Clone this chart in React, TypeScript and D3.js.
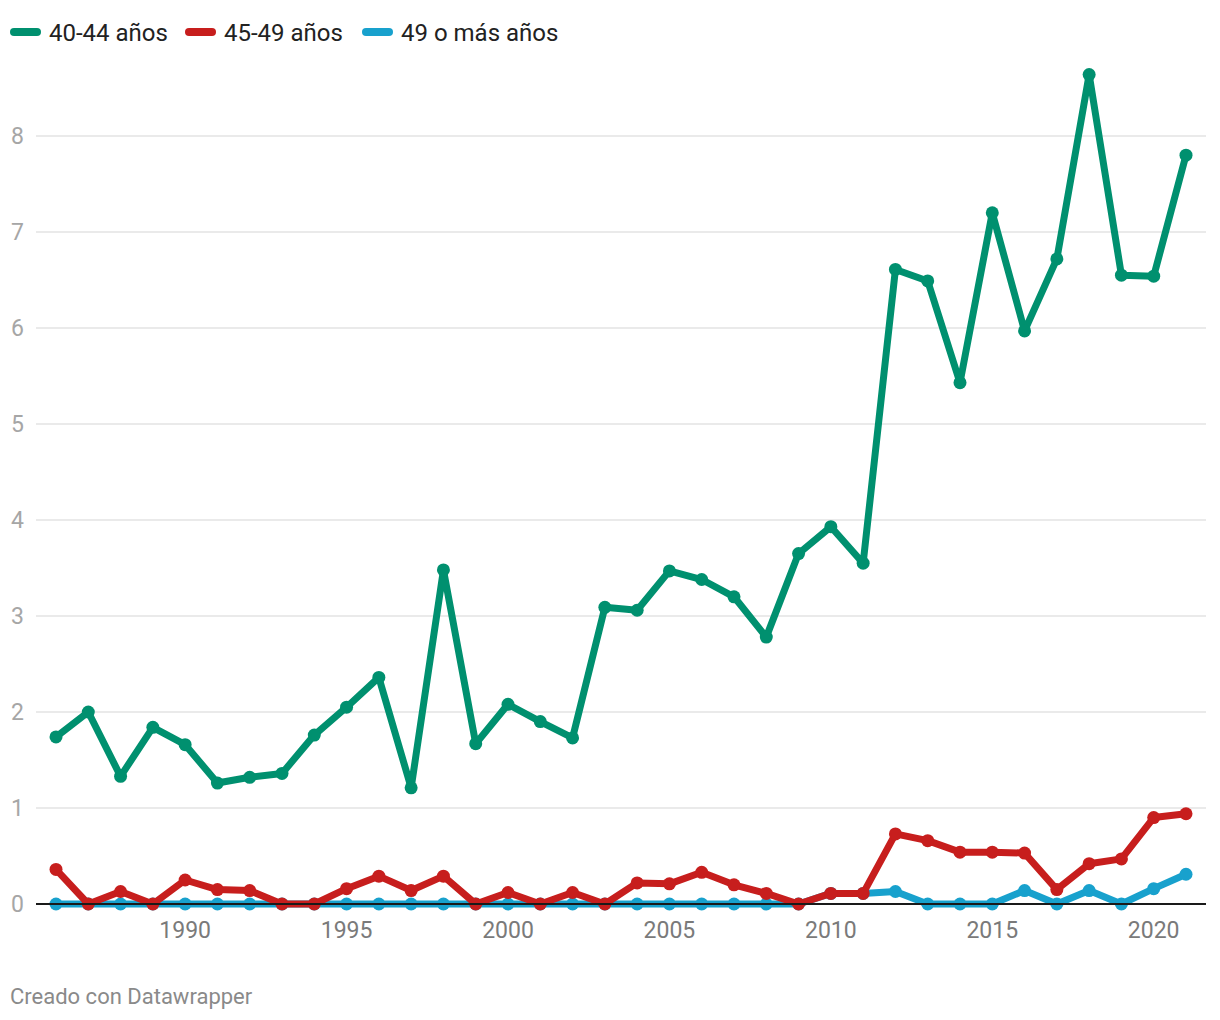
import React from "react";
import * as d3 from "d3";

const years: number[] = d3.range(1986, 2022);

const serie4044: number[] = [
  1.74, 2.0, 1.33, 1.84, 1.66, 1.26, 1.32, 1.36, 1.76, 2.05,
  2.36, 1.21, 3.48, 1.67, 2.08, 1.9, 1.73, 3.09, 3.06, 3.47,
  3.38, 3.2, 2.78, 3.65, 3.93, 3.55, 6.61, 6.49, 5.43, 7.2,
  5.97, 6.72, 8.64, 6.55, 6.54, 7.8,
];

const serie4549: number[] = [
  0.36, 0, 0.13, 0, 0.25, 0.15, 0.14, 0, 0, 0.16,
  0.29, 0.14, 0.29, 0, 0.12, 0, 0.12, 0, 0.22, 0.21,
  0.33, 0.2, 0.11, 0, 0.11, 0.11, 0.73, 0.66, 0.54, 0.54,
  0.53, 0.15, 0.42, 0.47, 0.9, 0.94,
];

const serie49mas: number[] = [
  0, 0, 0, 0, 0, 0, 0, 0, 0, 0,
  0, 0, 0, 0, 0, 0, 0, 0, 0, 0,
  0, 0, 0, 0, 0.11, 0.11, 0.13, 0, 0, 0,
  0.14, 0, 0.14, 0, 0.16, 0.31,
];

const seriesNames: string[] = ["40-44 años", "45-49 años", "49 o más años"];
const seriesColors: string[] = ["#00906f", "#c71e1d", "#18a1cd"];
const yTicks: number[] = [0, 1, 2, 3, 4, 5, 6, 7, 8];
const xTicks: number[] = [1990, 1995, 2000, 2005, 2010, 2015, 2020];

const W = 1220;
const H = 1020;
const FONT = "Roboto, 'Noto Sans', sans-serif";

export default function App() {
  const x = d3.scaleLinear().domain([1986, 2021]).range([56, 1186]);
  const y = d3.scaleLinear().domain([0, 8]).range([904, 136]);
  const line = d3
    .line<[number, number]>()
    .x((d) => x(d[0]))
    .y((d) => y(d[1]));

  const allSeries = [serie4044, serie4549, serie49mas];
  // draw order: blue bottom, red, green top
  const drawOrder = [2, 1, 0];

  const legendX = [10, 185, 362];

  return (
    <div style={{ position: "absolute", left: 0, top: 0 }}>
      <svg width={W} height={H} style={{ display: "block", background: "#fff" }}>
        {/* grid */}
        {yTicks
          .filter((t) => t !== 0)
          .map((t) => (
            <line
              key={"g" + t}
              x1={36}
              x2={1206}
              y1={y(t)}
              y2={y(t)}
              stroke="#e3e3e3"
              strokeWidth={1.5}
            />
          ))}
        {yTicks.map((t) => (
          <text
            key={"yt" + t}
            x={11}
            y={y(t) + 8}
            fontFamily={FONT}
            fontSize={23}
            fill="#a6a6a6"
          >
            {t}
          </text>
        ))}
        {xTicks.map((t) => (
          <text
            key={"xt" + t}
            x={x(t)}
            y={937.5}
            textAnchor="middle"
            fontFamily={FONT}
            fontSize={23}
            fill="#7a7a7a"
          >
            {t}
          </text>
        ))}

        {drawOrder.map((si) => {
          const pts: [number, number][] = years.map((yr, i) => [yr, allSeries[si][i]]);
          return (
            <g key={"s" + si}>
              <path
                d={line(pts) || ""}
                fill="none"
                stroke={seriesColors[si]}
                strokeWidth={7}
                strokeLinejoin="round"
                strokeLinecap="round"
              />
              {pts.map((p, i) => (
                <circle
                  key={i}
                  cx={x(p[0])}
                  cy={y(p[1])}
                  r={6.5}
                  fill={seriesColors[si]}
                />
              ))}
            </g>
          );
        })}

        {/* baseline */}
        <line x1={36} x2={1206} y1={y(0)} y2={y(0)} stroke="#1a1a1a" strokeWidth={2} />

        {/* legend */}
        {seriesNames.map((n, i) => (
          <g key={"l" + i}>
            <line
              x1={legendX[i] + 4}
              x2={legendX[i] + 27}
              y1={32}
              y2={32}
              stroke={seriesColors[i]}
              strokeWidth={8}
              strokeLinecap="round"
            />
            <text
              x={legendX[i] + 39}
              y={40.5}
              fontFamily={FONT}
              fontSize={24}
              fill="#222"
            >
              {n}
            </text>
          </g>
        ))}

        <text x={10} y={1004} fontFamily={FONT} fontSize={22} fill="#8a8a8a">
          Creado con Datawrapper
        </text>
      </svg>
    </div>
  );
}
